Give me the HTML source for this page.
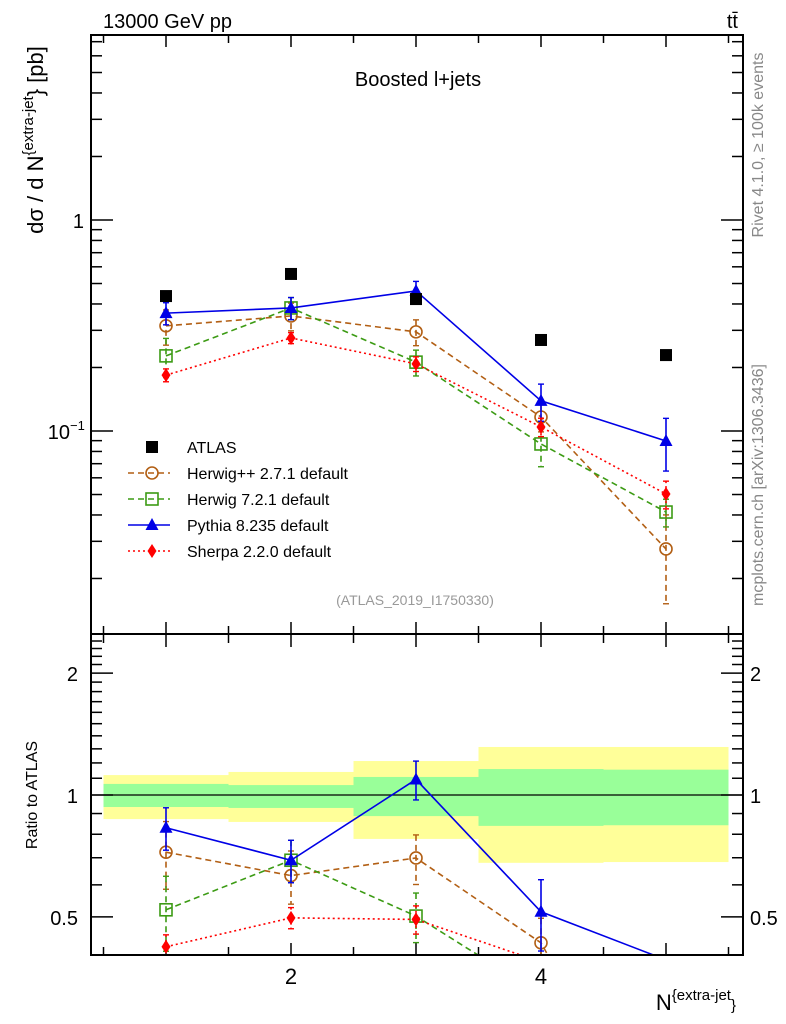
<!DOCTYPE html>
<html><head><meta charset="utf-8"><style>
html,body{margin:0;background:#fff;overflow:hidden;width:786px;height:1024px}
svg{display:block;font-family:"Liberation Sans",sans-serif}
</style></head><body>
<svg id="chart" width="786" height="1024" viewBox="0 0 786 1024">
<defs>
<clipPath id="clipMain"><rect x="91" y="35" width="652" height="599"/></clipPath>
<clipPath id="clipRatio"><rect x="91" y="635" width="652" height="320"/></clipPath>
</defs>
<g id="bands" clip-path="url(#clipRatio)"></g>
<g id="ticks"></g>
<g id="series"></g>
<rect x="91" y="35" width="652" height="599" fill="none" stroke="#000" stroke-width="2"/>
<rect x="91" y="634" width="652" height="321" fill="none" stroke="#000" stroke-width="2"/>
<text x="103" y="28" font-size="20">13000 GeV pp</text>
<text x="738" y="28" font-size="20" text-anchor="end">tt̄</text>
<text x="418" y="86" font-size="20" text-anchor="middle">Boosted l+jets</text>
<text x="415" y="605" font-size="14" fill="#999" text-anchor="middle">(ATLAS_2019_I1750330)</text>
<text transform="translate(763,145) rotate(-90)" font-size="16" fill="#888" text-anchor="middle">Rivet 4.1.0, ≥ 100k events</text>
<text transform="translate(763,485) rotate(-90)" font-size="16" fill="#888" text-anchor="middle">mcplots.cern.ch [arXiv:1306.3436]</text>
<text transform="translate(43,140) rotate(-90)" font-size="22" text-anchor="middle">dσ / d N<tspan dy="-10" font-size="15">{extra-jet</tspan><tspan dy="10">} [pb]</tspan></text>
<text transform="translate(37,795) rotate(-90)" font-size="16" text-anchor="middle">Ratio to ATLAS</text>
<text x="736" y="1010" font-size="22" text-anchor="end">N<tspan dy="-10" font-size="15">{extra-jet</tspan><tspan dy="10" font-size="15">}</tspan></text>
<g id="legend"></g>
</svg>
<script>
const categories=[1,2,3,4,5];
const atlas=[0.436,0.555,0.422,0.270,0.229];
const herwigpp=[0.315,0.351,0.295,0.1165,0.0276];
const herwig7=[0.227,0.383,0.212,0.0868,0.0413];
const pythia=[0.362,0.383,0.461,0.139,0.0897];
const sherpa=[0.184,0.276,0.208,0.1045,0.0503];
const herwigppErr=[0.19,0.15,0.14,0.15,0.45];
const herwig7Err=[0.21,0.12,0.14,0.22,0.15];
const pythiaErr=[0.12,0.12,0.11,0.20,0.28];
const sherpaErr=[0.07,0.06,0.08,0.10,0.15];
const binEdges=[0.5,1.5,2.5,3.5,4.5,5.5];
const yellowHi=[1.12,1.14,1.213,1.314,1.314];
const yellowLo=[0.872,0.858,0.779,0.680,0.683];
const greenHi=[1.065,1.058,1.108,1.159,1.155];
const greenLo=[0.934,0.929,0.887,0.839,0.842];
const xTickLabels=[2,4];

const NS="http://www.w3.org/2000/svg";
const X=v=>166+(v-1)*125;
const Y=v=>220-Math.log10(v)*211;
const R=v=>795-Math.log10(v)*405;
function mk(tag,attrs,parent){const e=document.createElementNS(NS,tag);for(const k in attrs)e.setAttribute(k,attrs[k]);parent.appendChild(e);return e;}

const bands=document.getElementById('bands');
for(let i=0;i<yellowHi.length;i++){
  const x0=X(binEdges[i]),x1=X(binEdges[i+1]);
  const y=mk('rect',{x:x0,y:R(yellowHi[i]),width:x1-x0,height:R(yellowLo[i])-R(yellowHi[i]),fill:'#ffff99'},bands);
  
  
  const g=mk('rect',{x:x0,y:R(greenHi[i]),width:x1-x0,height:R(greenLo[i])-R(greenHi[i]),fill:'#99ff99'},bands);
  
  
}
const one=mk('line',{x1:91,x2:743,y1:R(1),y2:R(1),stroke:'#000','stroke-width':1.3},bands);



const tk=document.getElementById('ticks');
function tl(x1,y1,x2,y2){mk('line',{x1,y1,x2,y2,stroke:'#000','stroke-width':1.5},tk);}
for(let v=0.5;v<=5.5;v+=0.5){
  const x=X(v),L=(v%1===0)?12:8;
  tl(x,35,x,35+L);tl(x,634,x,634-L);tl(x,635,x,635+L);tl(x,955,x,955-L);
}
[0.02,0.03,0.04,0.05,0.06,0.07,0.08,0.09,0.1,0.2,0.3,0.4,0.5,0.6,0.7,0.8,0.9,1,2,3,4,5,6,7].forEach(v=>{
  const y=Y(v);if(y<35||y>634)return;
  const L=(v===0.1||v===1)?22:11;tl(91,y,91+L,y);tl(743,y,743-L,y);
});
[0.5,0.6,0.7,0.8,0.9,1,1.1,1.2,1.3,1.4,1.5,1.6,1.7,1.8,1.9,2,2.1,2.2,2.3,2.4].forEach(v=>{
  const y=R(v);if(y<635||y>955)return;
  const L=(v===0.5||v===1||v===2)?22:11;tl(91,y,91+L,y);tl(743,y,743-L,y);
});
function txt(x,y,s,size,anchor,name){const t=mk('text',{x,y,'font-size':size,'text-anchor':anchor},tk);t.textContent=s;return t;}
txt(84,Y(1)+8,'1',20,'end','y-tick-1');
const t10=txt(70,Y(0.1)+8,'10',20,'end','y-tick-0.1');
const sup=mk('text',{x:70,y:Y(0.1)-1,'font-size':13},tk);sup.textContent='−1';


[[2,'2'],[1,'1'],[0.5,'0.5']].forEach(([v,s])=>{txt(78,R(v)+8,s,20,'end','ratio-tick-left');txt(750,R(v)+8,s,20,'start','ratio-tick-right');});
xTickLabels.forEach(v=>txt(X(v),984,String(v),22,'middle','x-tick'));

const sg=document.getElementById('series');
const defs=[
 {name:'herwigpp',data:herwigpp,err:herwigppErr,color:'#b25f14',dash:'6,4',marker:'circle',label:'Herwig++ 2.7.1 default'},
 {name:'herwig7',data:herwig7,err:herwig7Err,color:'#3c9b14',dash:'6,4',marker:'square',label:'Herwig 7.2.1 default'},
 {name:'pythia',data:pythia,err:pythiaErr,color:'#0000e6',dash:'',marker:'triangle',label:'Pythia 8.235 default'},
 {name:'sherpa',data:sherpa,err:sherpaErr,color:'#ff0000',dash:'2,3',marker:'diamond',label:'Sherpa 2.2.0 default'}
];
function marker(g,type,x,y,color){
  if(type==='circle')return mk('circle',{cx:x,cy:y,r:6,fill:'none',stroke:color,'stroke-width':1.6},g);
  if(type==='square')return mk('rect',{x:x-6,y:y-6,width:12,height:12,fill:'none',stroke:color,'stroke-width':1.6},g);
  if(type==='triangle')return mk('polygon',{points:`${x},${y-7} ${x-6.5},${y+5} ${x+6.5},${y+5}`,fill:color},g);
  if(type==='diamond')return mk('polygon',{points:`${x},${y-7} ${x-4.5},${y} ${x},${y+7} ${x+4.5},${y}`,fill:color},g);
  if(type==='sq')return mk('rect',{x:x-6,y:y-6,width:12,height:12,fill:'#000'},g);
}
function drawSeries(d,panel){
  const isR=panel==='ratio';
  const g=mk('g',{'clip-path':isR?'url(#clipRatio)':'url(#clipMain)'},sg);
  
  
  const val=i=>isR?d.data[i]/atlas[i]:d.data[i];
  const Yf=isR?R:Y;
  const pts=categories.map((c,i)=>X(c)+','+Yf(val(i))).join(' ');
  const pl=mk('polyline',{points:pts,fill:'none',stroke:d.color,'stroke-width':1.6,'stroke-dasharray':d.dash},g);
  
  
  categories.forEach((c,i)=>{
    const x=X(c),v=val(i);
    if(isR&&Yf(v)>955)return;
    const yt=Yf(v*(1+d.err[i])),yb=Yf(Math.max(v*(1-d.err[i]),1e-4));
    const eb=mk('line',{x1:x,x2:x,y1:yt,y2:yb,stroke:d.color,'stroke-width':1.6,'stroke-dasharray':d.dash},g);
    
    
    mk('line',{x1:x-3,x2:x+3,y1:yt,y2:yt,stroke:d.color,'stroke-width':1.4},g);
    mk('line',{x1:x-3,x2:x+3,y1:yb,y2:yb,stroke:d.color,'stroke-width':1.4},g);
    const m=marker(g,d.marker,x,Yf(v),d.color);
    
    
  });
}
defs.forEach(d=>{drawSeries(d,'main');drawSeries(d,'ratio');});
categories.forEach((c,i)=>{
  const m=marker(sg,'sq',X(c),Y(atlas[i]));
  
  
});

const lg=document.getElementById('legend');
const rows=[{label:'ATLAS',marker:'sq',color:'#000',dash:null}].concat(defs);
rows.forEach((d,i)=>{
  const y=447+i*26;
  const g=mk('g',{},lg);
  
  
  if(d.dash!==null&&d.dash!==undefined)mk('line',{x1:128,x2:170,y1:y,y2:y,stroke:d.color,'stroke-width':1.6,'stroke-dasharray':d.dash},g);
  marker(g,d.marker,152,y,d.color);
  const t=mk('text',{x:187,y:y+6,'font-size':16},g);t.textContent=d.label;
});
</script>
</body></html>
